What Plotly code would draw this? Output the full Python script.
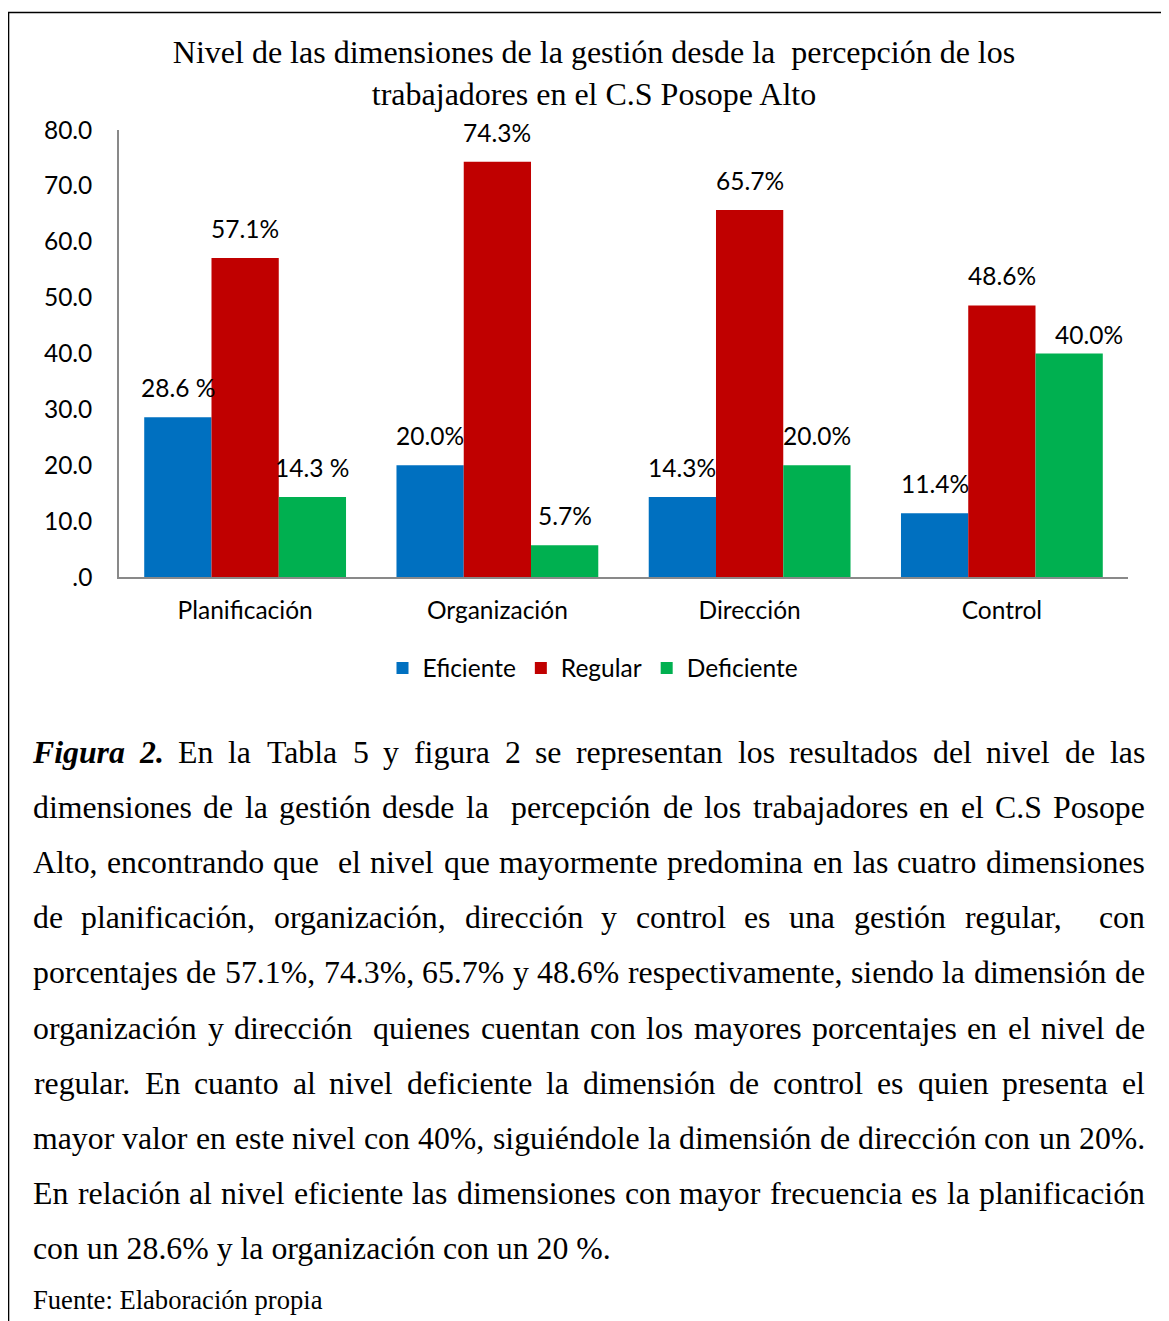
import unicodedata
import plotly.graph_objects as go

# ---------------- data ----------------
categories = ["Planificación", "Organización", "Dirección", "Control"]
series_names = ["Eficiente", "Regular", "Deficiente"]
eficiente = [28.6, 20.0, 14.3, 11.4]
regular = [57.1, 74.3, 65.7, 48.6]
deficiente = [14.3, 5.7, 20.0, 40.0]
labels_eficiente = ["28.6 %", "20.0%", "14.3%", "11.4%"]
labels_regular = ["57.1%", "74.3%", "65.7%", "48.6%"]
labels_deficiente = ["14.3 %", "5.7%", "20.0%", "40.0%"]
y_tickvals = [0, 10, 20, 30, 40, 50, 60, 70, 80]
y_ticktext = [".0", "10.0", "20.0", "30.0", "40.0", "50.0", "60.0", "70.0", "80.0"]

title_lines = ["Nivel de las dimensiones de la gestión desde la  percepción de los",
               "trabajadores en el C.S Posope Alto"]

caption_lines = [
    "Figura 2. En la Tabla 5 y figura 2 se representan los resultados del nivel de las",
    "dimensiones de la gestión desde la  percepción de los trabajadores en el C.S Posope",
    "Alto, encontrando que  el nivel que mayormente predomina en las cuatro dimensiones",
    "de planificación, organización, dirección y control es una gestión regular,  con",
    "porcentajes de 57.1%, 74.3%, 65.7% y 48.6% respectivamente, siendo la dimensión de",
    "organización y dirección  quienes cuentan con los mayores porcentajes en el nivel de",
    "regular. En cuanto al nivel deficiente la dimensión de control es quien presenta el",
    "mayor valor en este nivel con 40%, siguiéndole la dimensión de dirección con un 20%.",
    "En relación al nivel eficiente las dimensiones con mayor frecuencia es la planificación",
]
caption_last = "con un 28.6% y la organización con un 20 %."
source_text = "Fuente: Elaboración propia"

# ---------------- styles / layout ----------------
OFF = 8                        # page body margin
PAGE_W, PAGE_H = 1169, 1321
FIG_W, FIG_H = PAGE_W - OFF, PAGE_H - OFF
# plot area in page pixels
PL, PR, PT, PB = 119, 1128, 130, 577
BARGAP = 0.2
colors = ["#0070C0", "#C00000", "#00B050"]
SANS = "Lato"
SERIF = "Liberation Serif"
CHART_FS = 24.5
CAP_FS = 31.8
LABEL_YSHIFT = 29.5
# manual nudges of individual data labels (series index, category index) -> (dx, dy) px
label_nudge = {(2, 3): (20, -10)}


def px2x(px):
    return (px - PL) / (PR - PL)


def px2y(py):
    return (PB - py) / (PB - PT)


fig = go.Figure()
all_vals = [eficiente, regular, deficiente]
all_labels = [labels_eficiente, labels_regular, labels_deficiente]
for name, vals, col in zip(series_names, all_vals, colors):
    fig.add_trace(go.Bar(name=name, x=categories, y=vals,
                         marker=dict(color=col, line=dict(width=0))))

# data labels above bars
barw = (1 - BARGAP) / len(series_names)
annotations = []
for i, (vals, labs) in enumerate(zip(all_vals, all_labels)):
    for j, (v, t) in enumerate(zip(vals, labs)):
        dx, dy = label_nudge.get((i, j), (0, 0))
        annotations.append(dict(
            x=j + (i - 1) * barw, y=v, xref="x", yref="y", text=t,
            showarrow=False, yanchor="middle", xanchor="center",
            xshift=dx, yshift=LABEL_YSHIFT + dy,
            font=dict(family=SANS, size=CHART_FS, color="#000000")))

# ---- caption (justified via per-word placement) ----
TW = dict(a=444, b=500, c=444, d=500, e=444, f=333, g=500, h=500, i=278, j=278,
          k=500, l=278, m=778, n=500, o=500, p=500, q=500, r=333, s=389, t=278,
          u=500, v=500, w=722, x=500, y=500, z=444,
          A=722, B=667, C=667, D=722, E=611, F=556, G=722, H=722, I=333, J=389,
          K=722, L=611, M=889, N=722, O=722, P=556, Q=722, R=667, S=556, T=611,
          U=722, V=722, W=944, X=722, Y=722, Z=611)
TW.update({str(d): 500 for d in range(10)})
TW.update({".": 250, ",": 250, ":": 278, "%": 833, " ": 250})
TWBI = dict(F=667, i=278, g=500, u=556, r=389, a=500)
TWBI.update({"2": 500, ".": 250})


def word_w(word, size, bold=False):
    tot = 0
    for ch in word:
        base = unicodedata.normalize("NFD", ch)[0]
        table = TWBI if bold else TW
        tot += table.get(base, TW.get(base, 500))
    return tot * size / 1000.0


CAP_L, CAP_R = 33, 1145
cap_y0, cap_dy = 752, 55.2
for li, line in enumerate(caption_lines):
    tokens = line.split(" ")
    bold_flags = [li == 0 and k < 2 for k in range(len(tokens))]
    widths = [word_w(tk, CAP_FS, b) for tk, b in zip(tokens, bold_flags)]
    gap = (CAP_R - CAP_L - sum(widths)) / (len(tokens) - 1)
    xpos = CAP_L
    yc = cap_y0 + li * cap_dy
    for tk, wdt, b in zip(tokens, widths, bold_flags):
        if tk:
            txt = f"<b><i>{tk}</i></b>" if b else tk
            annotations.append(dict(
                x=px2x(xpos + wdt / 2), y=px2y(yc), xref="paper", yref="paper",
                text=txt, showarrow=False, xanchor="center", yanchor="middle",
                font=dict(family=SERIF, size=CAP_FS, color="#000000")))
        xpos += wdt + gap

annotations.append(dict(
    x=px2x(CAP_L - 2), y=px2y(cap_y0 + 9 * cap_dy), xref="paper", yref="paper",
    text=caption_last, showarrow=False, xanchor="left", yanchor="middle",
    font=dict(family=SERIF, size=CAP_FS, color="#000000")))
annotations.append(dict(
    x=px2x(CAP_L - 2), y=px2y(1300), xref="paper", yref="paper",
    text=source_text, showarrow=False, xanchor="left", yanchor="middle",
    font=dict(family=SERIF, size=26.6, color="#000000")))

# outer frame (top and left edges visible; others run off the page)
shapes = [dict(type="rect", xref="paper", yref="paper",
               x0=px2x(8.5), x1=px2x(PAGE_W + 20), y0=px2y(PAGE_H + 20), y1=px2y(12.5),
               line=dict(color="#000000", width=1.6), fillcolor="rgba(0,0,0,0)",
               layer="below")]

fig.update_layout(
    width=FIG_W, height=FIG_H,
    margin=dict(l=PL - OFF, r=PAGE_W - PR, t=PT - OFF, b=PAGE_H - PB, autoexpand=False),
    paper_bgcolor="#FFFFFF", plot_bgcolor="#FFFFFF",
    barmode="group", bargap=BARGAP, bargroupgap=0,
    title=dict(text="<br>".join(title_lines), xref="container", yref="container",
               x=(594 - OFF) / FIG_W, xanchor="center", y=1 - (63 - OFF) / FIG_H,
               yanchor="middle",
               font=dict(family=SERIF, size=32, color="#000000")),
    legend=dict(orientation="h", xref="container", yref="container",
                x=(593 - OFF) / FIG_W, xanchor="center", y=1 - (668 - OFF) / FIG_H,
                yanchor="middle",
                font=dict(family=SANS, size=CHART_FS, color="#000000"),
                bgcolor="rgba(0,0,0,0)", itemwidth=30, traceorder="normal"),
    xaxis=dict(showline=True, linecolor="#898989", linewidth=1.5, showgrid=False,
               ticks="outside", ticklen=11, tickcolor="rgba(0,0,0,0)",
               tickfont=dict(family=SANS, size=CHART_FS, color="#000000")),
    yaxis=dict(range=[0, 80], showline=True, linecolor="#898989", linewidth=1.5,
               showgrid=False, zeroline=False, tickvals=y_tickvals, ticktext=y_ticktext,
               ticks="outside", ticklen=20, tickcolor="rgba(0,0,0,0)",
               tickfont=dict(family=SANS, size=CHART_FS, color="#000000")),
    annotations=annotations, shapes=shapes, showlegend=True,
)

fig.write_html("out.html")
